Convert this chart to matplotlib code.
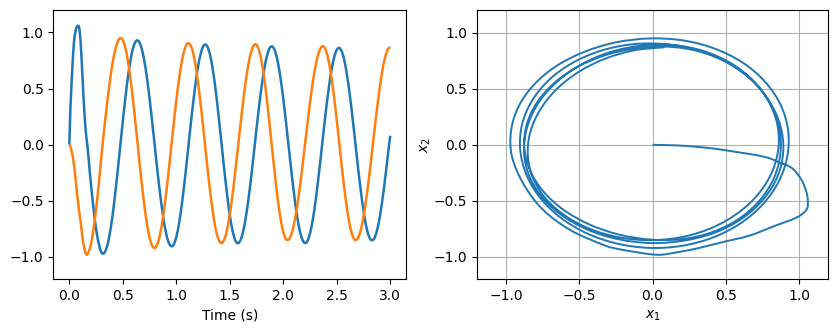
import matplotlib
matplotlib.use("Agg")
import matplotlib.pyplot as plt
from matplotlib.path import Path
from matplotlib.patches import PathPatch

# sample times (s)
time_s = [
    0.000, 0.005, 0.010, 0.015, 0.020, 0.025, 0.030, 0.035, 0.040, 0.045, 0.050,
    0.060, 0.070, 0.080, 0.090, 0.100, 0.110, 0.120, 0.130, 0.140, 0.150,
    0.160, 0.170, 0.180, 0.190, 0.200,
    0.225, 0.250, 0.275, 0.300, 0.325, 0.350, 0.375, 0.400, 0.425, 0.450,
    0.475, 0.500, 0.525, 0.550, 0.575, 0.600, 0.625, 0.650, 0.675, 0.700,
    0.725, 0.750, 0.775, 0.800, 0.825, 0.850, 0.875, 0.900, 0.925, 0.950,
    0.975, 1.000, 1.025, 1.050, 1.075, 1.100, 1.125, 1.150, 1.175, 1.200,
    1.225, 1.250, 1.275, 1.300, 1.325, 1.350, 1.375, 1.400, 1.425, 1.450,
    1.475, 1.500, 1.525, 1.550, 1.575, 1.600, 1.625, 1.650, 1.675, 1.700,
    1.725, 1.750, 1.775, 1.800, 1.825, 1.850, 1.875, 1.900, 1.925, 1.950,
    1.975, 2.000, 2.025, 2.050, 2.075, 2.100, 2.125, 2.150, 2.175, 2.200,
    2.225, 2.250, 2.275, 2.300, 2.325, 2.350, 2.375, 2.400, 2.425, 2.450,
    2.475, 2.500, 2.525, 2.550, 2.575, 2.600, 2.625, 2.650, 2.675, 2.700,
    2.725, 2.750, 2.775, 2.800, 2.825, 2.850, 2.875, 2.900, 2.925, 2.950,
    2.975, 3.000,
]

x1 = [
    0.00, 0.17, 0.32, 0.43, 0.53, 0.63, 0.72, 0.80, 0.87, 0.93, 0.97,
    1.02, 1.05, 1.06, 1.05, 0.98, 0.84, 0.66, 0.47, 0.30, 0.16,
    0.06, -0.02, -0.12, -0.23, -0.33,
    -0.56, -0.75, -0.88, -0.96, -0.965, -0.914, -0.809, -0.658, -0.467, -0.251,
    -0.020, 0.211, 0.427, 0.618, 0.769, 0.874, 0.925, 0.920, 0.861, 0.752,
    0.599, 0.411, 0.199, -0.023, -0.244, -0.449, -0.627, -0.768, -0.861, -0.903,
    -0.891, -0.823, -0.705, -0.544, -0.349, -0.132, 0.093, 0.310, 0.510, 0.676,
    0.799, 0.873, 0.892, 0.853, 0.758, 0.614, 0.429, 0.216, -0.010, -0.236,
    -0.446, -0.626, -0.763, -0.849, -0.878, -0.851, -0.773, -0.646, -0.482, -0.288,
    -0.075, 0.142, 0.350, 0.536, 0.689, 0.800, 0.864, 0.873, 0.829, 0.731,
    0.590, 0.409, 0.205, -0.013, -0.230, -0.433, -0.609, -0.747, -0.837, -0.875,
    -0.859, -0.790, -0.673, -0.515, -0.325, -0.116, 0.102, 0.311, 0.500, 0.659,
    0.776, 0.845, 0.861, 0.823, 0.733, 0.595, 0.421, 0.220, 0.005, -0.210,
    -0.411, -0.585, -0.723, -0.813, -0.851, -0.836, -0.769, -0.657, -0.503, -0.321,
    -0.118, 0.080,
]

x2 = [
    0.000, -0.005, -0.020, -0.035, -0.055, -0.075, -0.095, -0.120, -0.160, -0.190, -0.230,
    -0.320, -0.420, -0.500, -0.580, -0.650, -0.720, -0.810, -0.870, -0.925, -0.960,
    -0.980, -0.975, -0.955, -0.930, -0.895,
    -0.761, -0.576, -0.351, -0.102, 0.131, 0.343, 0.537, 0.702, 0.829, 0.914,
    0.949, 0.931, 0.857, 0.731, 0.561, 0.357, 0.132, -0.102, -0.327, -0.531,
    -0.701, -0.827, -0.901, -0.919, -0.880, -0.789, -0.650, -0.471, -0.266, -0.044,
    0.180, 0.393, 0.581, 0.733, 0.841, 0.898, 0.898, 0.843, 0.733, 0.577,
    0.384, 0.168, -0.059, -0.281, -0.483, -0.654, -0.781, -0.854, -0.876, -0.841,
    -0.755, -0.622, -0.452, -0.252, -0.039, 0.178, 0.386, 0.570, 0.720, 0.828,
    0.885, 0.890, 0.836, 0.727, 0.570, 0.374, 0.154, -0.073, -0.295, -0.496,
    -0.659, -0.778, -0.840, -0.845, -0.800, -0.709, -0.578, -0.413, -0.226, -0.024,
    0.180, 0.374, 0.549, 0.693, 0.799, 0.861, 0.876, 0.836, 0.744, 0.603,
    0.425, 0.219, 0.001, -0.218, -0.421, -0.596, -0.731, -0.817, -0.850, -0.829,
    -0.758, -0.642, -0.488, -0.305, -0.103, 0.106, 0.309, 0.494, 0.652, 0.770,
    0.845, 0.870,
]

time_ticks = [0.0, 0.5, 1.0, 1.5, 2.0, 2.5, 3.0]
state_ticks = [-1.0, -0.5, 0.0, 0.5, 1.0]


def smooth_line(ax, xs, ys, color, lw):
    """Draw a smooth curve through the given data points (Catmull-Rom
    rendered as cubic Bezier segments in data coordinates)."""
    n = len(xs)
    verts = [(xs[0], ys[0])]
    codes = [Path.MOVETO]
    for i in range(n - 1):
        i0 = max(i - 1, 0)
        i3 = min(i + 2, n - 1)
        c1 = (xs[i] + (xs[i + 1] - xs[i0]) / 6.0, ys[i] + (ys[i + 1] - ys[i0]) / 6.0)
        c2 = (xs[i + 1] - (xs[i3] - xs[i]) / 6.0, ys[i + 1] - (ys[i3] - ys[i]) / 6.0)
        verts += [c1, c2, (xs[i + 1], ys[i + 1])]
        codes += [Path.CURVE4, Path.CURVE4, Path.CURVE4]
    patch = PathPatch(Path(verts, codes), facecolor="none", edgecolor=color,
                      lw=lw, joinstyle="round", capstyle="butt")
    ax.add_patch(patch)


fig = plt.figure(figsize=(8.38, 3.33), dpi=100)
ax1 = fig.add_axes([0.0636, 0.161, 0.4212, 0.809])
ax2 = fig.add_axes([0.5689, 0.161, 0.4196, 0.808])

smooth_line(ax1, time_s, x1, "tab:blue", 1.8)
smooth_line(ax1, time_s, x2, "tab:orange", 1.8)
ax1.set_xlim(-0.15, 3.15)
ax1.set_ylim(-1.2, 1.2)
ax1.set_xticks(time_ticks)
ax1.set_yticks(state_ticks)
ax1.set_xlabel("Time (s)")

smooth_line(ax2, x1, x2, "tab:blue", 1.4)
ax2.set_xlim(-1.2, 1.2)
ax2.set_ylim(-1.2, 1.2)
ax2.set_xticks(state_ticks)
ax2.set_yticks(state_ticks)
ax2.grid(True)
ax2.set_axisbelow(True)
ax2.set_xlabel("$x_1$")
ax2.set_ylabel("$x_2$", labelpad=0)

fig.savefig("out.png", dpi=100)
